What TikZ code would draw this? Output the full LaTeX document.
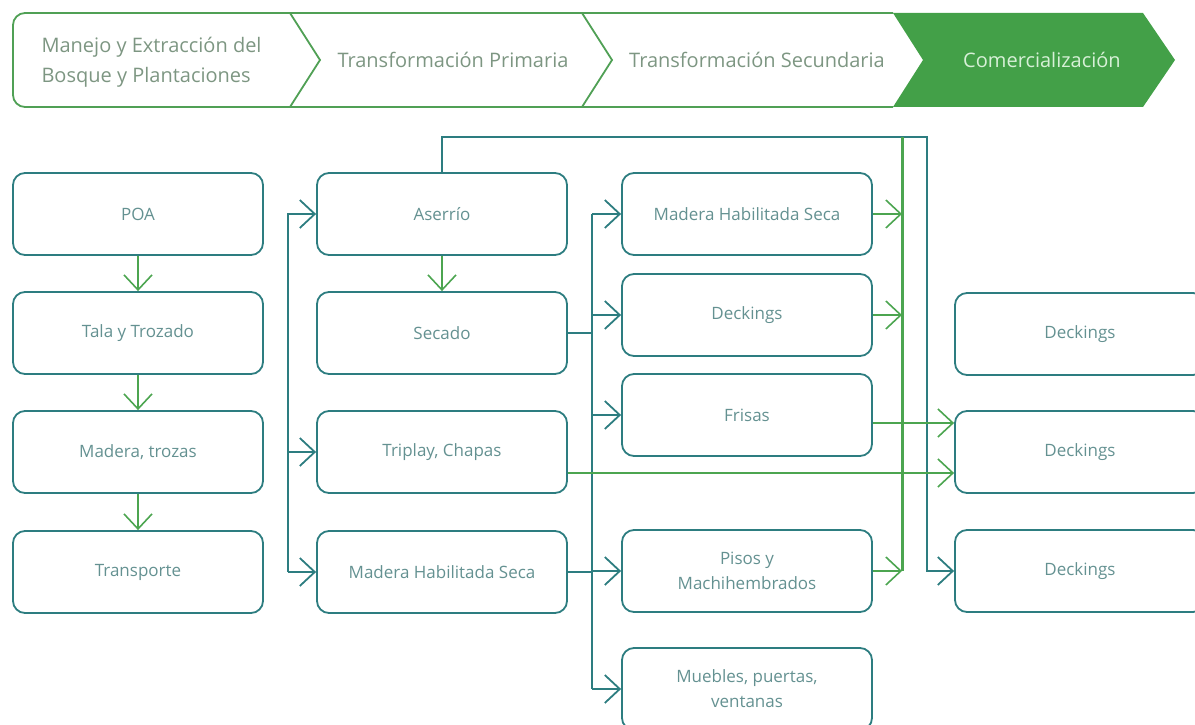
\documentclass[tikz,border=0pt]{standalone}
\usepackage{fontspec}
\setmainfont{Open Sans}
\usetikzlibrary{arrows.meta}
\definecolor{boxline}{RGB}{45,125,128}
\definecolor{boxtext}{RGB}{100,145,145}
\definecolor{flowgreen}{RGB}{76,165,80}
\definecolor{hdline}{RGB}{80,160,85}
\definecolor{hdfill}{RGB}{67,160,72}
\definecolor{hdtext}{RGB}{125,150,130}
\definecolor{hdlight}{RGB}{215,240,215}

\begin{document}
\begin{tikzpicture}[x=1pt,y=-1pt,
  box/.style={draw=boxline, line width=1.8pt, rounded corners=12pt, minimum width=250pt, minimum height=82pt, text=boxtext, align=center, font=\fontsize{17}{25}\selectfont},
  hd/.style={text=hdtext, align=center, font=\fontsize{20}{30}\selectfont},
  tline/.style={draw=boxline, line width=1.8pt},
  gline/.style={draw=flowgreen, line width=1.6pt},
  flow/.style={-{Straight Barb[length=15pt,width=28pt]}}
]
\clip (0,0) rectangle (1195,725);

\fill[hdfill] (893,13) -- (1143,13) -- (1175,60) -- (1143,107) -- (893,107) -- (923,60) -- cycle;
\draw[hdline, line width=1.8pt, rounded corners=12pt] (893,13) -- (13,13) -- (13,107) -- (893,107);
\draw[hdline, line width=1.8pt] (290,13) -- (320,60) -- (290,107);
\draw[hdline, line width=1.8pt] (582,13) -- (612,60) -- (582,107);
\node[hd, anchor=west, align=left] (hdbosque) at (38,62) {Manejo y Extracción del\\Bosque y Plantaciones};
\node[hd] (hdprim) at (453,60) {Transformación Primaria};
\node[hd] (hdsec) at (757,60) {Transformación Secundaria};
\node[hd, text=hdlight] (hdcom) at (1042,60) {Comercialización};

\node[box] (poa) at (138,214) {POA};
\node[box] (tala) at (138,333) {Tala y Trozado};
\node[box] (trozas) at (138,452) {Madera, trozas};
\node[box] (transp) at (138,572) {Transporte};

\node[box] (aserrio) at (442,214) {Aserrío};
\node[box] (secado) at (442,333) {Secado};
\node[box] (triplay) at (442,452) {Triplay, Chapas};
\node[box] (mhsprim) at (442,572) {Madera Habilitada Seca};

\node[box] (mhssec) at (747,214) {Madera Habilitada Seca};
\node[box] (decksec) at (747,315) {Deckings};
\node[box] (frisas) at (747,415) {Frisas};
\node[box] (pisos) at (747,571) {Pisos y\\Machihembrados};
\node[box] (muebles) at (747,689) {Muebles, puertas,\\ventanas};

\node[box] (deckA) at (1080,334) {Deckings};
\node[box] (deckB) at (1080,452) {Deckings};
\node[box] (deckC) at (1080,571) {Deckings};

\draw[gline, flow] (poa) -- (tala);
\draw[gline, flow] (tala) -- (trozas);
\draw[gline, flow] (trozas) -- (transp);
\draw[gline, flow] (aserrio) -- (secado);

\coordinate (lbusT) at (288,214);
\coordinate (lbusB) at (288,572);
\draw[tline, flow] (lbusB) -- (lbusT) -- (aserrio.west);
\draw[tline, flow] (lbusB) -- (mhsprim.west);
\draw[tline, flow] (lbusT |- triplay.west) -- (triplay.west);

\coordinate (rbusT) at (592,214);
\coordinate (rbusB) at (592,689);
\draw[tline] (rbusT) -- (rbusB);
\draw[tline] (secado.east) -- (secado.east -| rbusT);
\draw[tline] (mhsprim.east) -- (mhsprim.east -| rbusT);
\foreach \n in {mhssec,decksec,frisas,pisos,muebles}
  \draw[tline, flow] (rbusT |- \n.west) -- (\n.west);

\coordinate (topR) at (927,137);
\draw[tline, flow] (aserrio.north) -- (aserrio.north |- topR) -- (topR) -- (topR |- deckC.west) -- (deckC.west);

\coordinate (gbusT) at (902,137);
\coordinate (gbusB) at (902,571);
\draw[draw=flowgreen, line width=3pt] (gbusT) -- (gbusB);
\foreach \n in {mhssec,decksec,pisos}
  \draw[gline, flow] (\n.east) -- (\n.east -| gbusT);

\draw[gline, flow] ([yshift=-8pt]frisas.east) -- ([yshift=-8pt]frisas.east -| deckB.west);
\draw[gline, flow] ([yshift=-21pt]triplay.east) -- ([yshift=-21pt]triplay.east -| deckB.west);
\end{tikzpicture}
\end{document}
